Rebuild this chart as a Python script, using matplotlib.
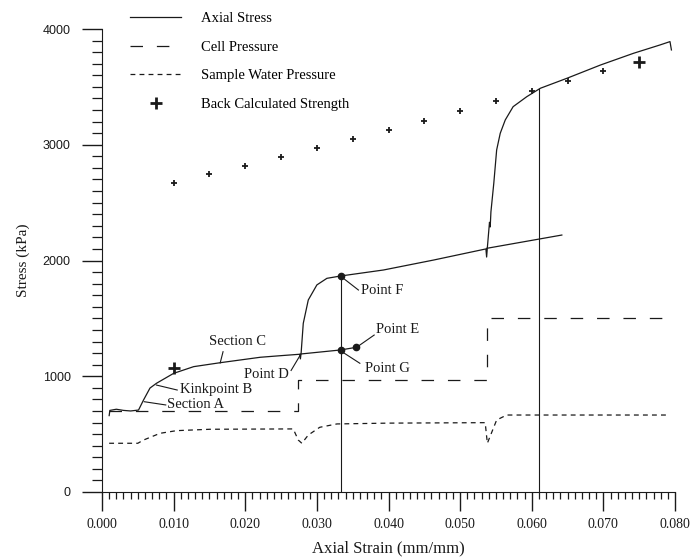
import matplotlib
matplotlib.use("Agg")
import matplotlib.pyplot as plt
from matplotlib.ticker import MultipleLocator, FormatStrFormatter

plt.rcParams['font.family'] = ['Liberation Serif', 'DejaVu Serif']
plt.rcParams['lines.scale_dashes'] = False

# axial stress, loading path (strain, kPa)
axial_x = [0.0010, 0.0011, 0.0020, 0.0030, 0.0040, 0.0051, 0.0058, 0.0067, 0.0076,
           0.0100, 0.0128, 0.0165, 0.0221, 0.0250, 0.0276, 0.0277, 0.0278, 0.0281,
           0.0288, 0.0300, 0.0314, 0.0333, 0.0393, 0.0463, 0.0536, 0.0537, 0.0538,
           0.0541, 0.0542, 0.0543, 0.0547, 0.0551, 0.0556, 0.0563, 0.0574, 0.0593,
           0.0612, 0.0649, 0.0696, 0.0742, 0.0779, 0.0793, 0.0795]
axial_y = [660, 705, 715, 705, 700, 708, 795, 898, 939,
           1025, 1083, 1117, 1164, 1178, 1190, 1150, 1200, 1457,
           1659, 1789, 1846, 1866, 1918, 2004, 2100, 2030, 2110,
           2330, 2290, 2420, 2667, 2955, 3099, 3214, 3329, 3415,
           3488, 3574, 3689, 3790, 3862, 3891, 3819]

# extrapolated lines
ext1_x = [0.0277, 0.0333, 0.0355]
ext1_y = [1192, 1227, 1250]
ext2_x = [0.0537, 0.0642]
ext2_y = [2105, 2220]

# cell pressure
cell_x = [0.0010, 0.0274, 0.0274, 0.0538, 0.0538, 0.0789]
cell_y = [700, 700, 968, 968, 1500, 1500]

# sample water pressure
water_x = [0.0010, 0.0050, 0.0058, 0.0081, 0.0104, 0.0151, 0.0267, 0.0274, 0.0279,
           0.0288, 0.0304, 0.0328, 0.0400, 0.0535, 0.0538, 0.0551, 0.0565, 0.0793]
water_y = [421, 421, 449, 507, 530, 542, 545, 449, 421,
           492, 559, 588, 595, 599, 421, 622, 665, 665]

# back calculated strength
bcs_x = [0.010, 0.015, 0.020, 0.025, 0.030, 0.035, 0.040,
         0.045, 0.050, 0.055, 0.060, 0.065, 0.070]
bcs_y = [2672, 2745, 2817, 2892, 2970, 3047, 3128,
         3208, 3292, 3378, 3467, 3554, 3637]
bcs_big_x = [0.010, 0.075]
bcs_big_y = [1069, 3718]

# vertical reference lines
vline_x = [0.0333, 0.0610]
vline_top = [1866, 3480]

# marked points
pt_x = [0.0333, 0.0333, 0.0355]
pt_y = [1866, 1227, 1250]

# labels: text, text pos, leader start, leader end
notes = [
    ("Section C", (0.0189, 1300), (0.0169, 1212), (0.0165, 1115), 'center'),
    ("Kinkpoint B", (0.0109, 887), (0.0105, 881), (0.0076, 924), 'left'),
    ("Section A", (0.0091, 760), (0.0089, 752), (0.0059, 780), 'left'),
    ("Point D", (0.0261, 1011), (0.0264, 1050), (0.0277, 1185), 'right'),
    ("Point F", (0.0362, 1745), (0.0358, 1745), (0.0337, 1846), 'left'),
    ("Point E", (0.0383, 1406), (0.0380, 1356), (0.0358, 1261), 'left'),
    ("Point G", (0.0367, 1069), (0.0360, 1112), (0.0337, 1204), 'left'),
]

ink = '#1a1a1a'
fig = plt.figure(figsize=(6.93, 5.6), dpi=100)
ax = fig.add_axes([102/693, 1 - 492/560, 573/693, 463/560])

ax.plot(axial_x, axial_y, color=ink, lw=0.9, label='Axial Stress')
ax.plot(ext1_x, ext1_y, color=ink, lw=0.9)
ax.plot(ext2_x, ext2_y, color=ink, lw=0.9)
ax.plot(cell_x, cell_y, color=ink, lw=0.9, dashes=(9, 10), label='Cell Pressure')
ax.plot(water_x, water_y, color=ink, lw=0.9, dashes=(3.5, 3), label='Sample Water Pressure')
ax.plot(bcs_x, bcs_y, '+', color=ink, ms=5, mew=1.3)
ax.plot(bcs_big_x, bcs_big_y, '+', color=ink, ms=8, mew=2.0, label='Back Calculated Strength')

for vx, vt in zip(vline_x, vline_top):
    ax.plot([vx, vx], [0, vt], color=ink, lw=0.8)

ax.plot(pt_x, pt_y, 'o', color=ink, ms=4.5)

for txt, tpos, a, b, ha in notes:
    ax.plot([a[0], b[0]], [a[1], b[1]], color=ink, lw=0.8)
    ax.text(tpos[0], tpos[1], txt, ha=ha, va='center', fontsize=10.5, color=ink)

ax.set_xlim(0, 0.08)
ax.set_ylim(0, 4000)
ax.spines['top'].set_visible(False)
ax.spines['right'].set_visible(False)
ax.spines['left'].set_color(ink)
ax.spines['bottom'].set_color(ink)

ax.xaxis.set_major_locator(MultipleLocator(0.01))
ax.xaxis.set_minor_locator(MultipleLocator(0.001))
ax.xaxis.set_major_formatter(FormatStrFormatter('%.3f'))
ax.yaxis.set_major_locator(MultipleLocator(1000))
ax.yaxis.set_minor_locator(MultipleLocator(100))

ax.tick_params(axis='x', which='major', direction='out', length=13.5, width=1.0,
               pad=5, labelsize=10, colors=ink)
ax.tick_params(axis='x', which='minor', direction='out', length=5, width=0.9, colors=ink)
ax.tick_params(axis='y', which='major', direction='out', length=14.5, width=1.0,
               pad=8, labelsize=9, colors=ink)
ax.tick_params(axis='y', which='minor', direction='out', length=7, width=0.9, colors=ink)
for lab in ax.get_yticklabels():
    lab.set_family('Liberation Sans')

ax.set_xlabel('Axial Strain (mm/mm)', fontsize=12, color=ink, labelpad=7)
ax.set_ylabel('Stress (kPa)', fontsize=11, color=ink, labelpad=9)

ax.legend(loc='upper left', bbox_to_anchor=(130/693, 1 - 12/560), bbox_transform=fig.transFigure,
          frameon=False, fontsize=10.5, handlelength=3.5, handletextpad=1.4,
          labelspacing=1.05, borderpad=0, borderaxespad=0)

fig.savefig('out.png', dpi=100, facecolor='white')
